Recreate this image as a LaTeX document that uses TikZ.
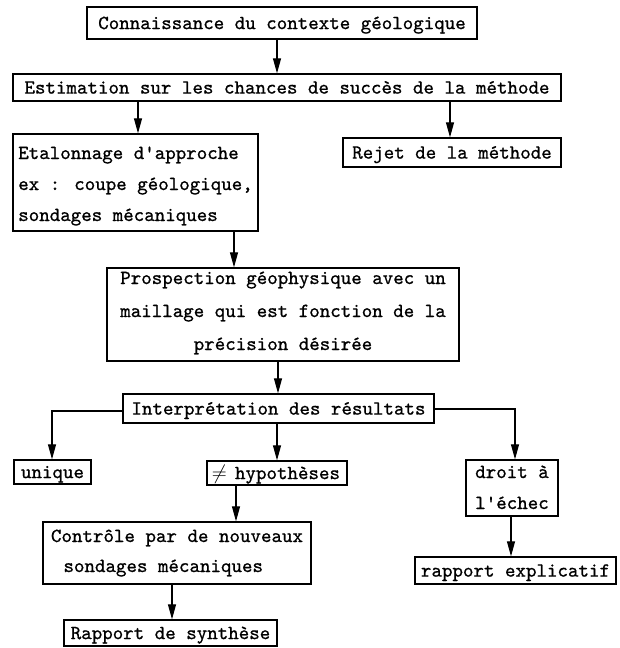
\documentclass[tikz,border=0pt]{standalone}
\usepackage{fontspec}
\usetikzlibrary{arrows.meta}
\newfontfamily\twbase{lmmono10-regular}[Extension=.otf, FakeBold=0.8]
\newcommand\twfont[1]{\twbase\fontsize{20}{#1}\selectfont}
\tikzset{
  box/.style={draw, line width=1.3pt, inner sep=0pt, font={\twfont{24}}, text height=12.2pt, text depth=0pt},
  mbox/.style={draw, line width=1.3pt, inner sep=0pt},
  conn/.style={line width=1.1pt, -{Triangle[length=15pt,width=8pt]}},
}
\begin{document}
\begin{tikzpicture}[x=1pt,y=-1pt]
\fill[white] (0,0) rectangle (619,648);
\useasboundingbox (0,0) rectangle (619,648);

\node[box, minimum width=390pt, minimum height=32pt] (c1) at (282,23) {Connaissance du contexte géologique};
\node[box, minimum width=548pt, minimum height=27pt] (est) at (287,87.5) {Estimation sur les chances de succès de la méthode};
\node[mbox, font={\twfont{31}}, align=left, minimum width=245pt, minimum height=97pt] (eta) at (135.5,182.5)
  {\rule{0pt}{20pt}Etalonnage d\textquotesingle approche\\ex : coupe géologique,\\sondages mécaniques\rule[-5pt]{0pt}{5pt}};
\node[box, minimum width=218pt, minimum height=29pt] (rej) at (452,152.5) {Rejet de la méthode};
\node[mbox, font={\twfont{33}}, align=center, minimum width=352pt, minimum height=93pt] (pro) at (283,314.5)
  {\rule{0pt}{15pt}Prospection géophysique avec un\\maillage qui est fonction de la\\précision désirée\rule[-10pt]{0pt}{10pt}};
\node[box, minimum width=311pt, minimum height=29pt] (int) at (278.5,408.5) {Interprétation des résultats};
\node[box, minimum width=77pt, minimum height=24pt] (uni) at (52.5,472) {unique};
\node[box, minimum width=140pt, minimum height=24pt] (hyp) at (277,473) {\makebox[10.5pt]{$\neq$} hypothèses};
\node[mbox, font={\twfont{31}}, align=left, minimum width=92pt, minimum height=56pt] (dro) at (512,488)
  {\rule{0pt}{16pt}droit à\\l\textquotesingle échec\rule[-5pt]{0pt}{5pt}};
\node[box, minimum width=201pt, minimum height=27pt] (rex) at (515.5,570.5) {rapport explicatif};
\node[mbox, font={\twfont{30}}, align=left, minimum width=268pt, minimum height=62pt] (con) at (177,553)
  {\rule{0pt}{15pt}Contrôle par de nouveaux\\\hspace*{12.5pt}sondages mécaniques\rule[-7pt]{0pt}{7pt}};
\node[box, minimum width=213pt, minimum height=26pt] (syn) at (170.5,633) {Rapport de synthèse};

\draw[conn] ([xshift=-5pt]c1.south) -- ([xshift=-5pt]c1.south |- est.north);
\draw[conn] ([xshift=2.5pt]eta.north |- est.south) -- ([xshift=2.5pt]eta.north);
\draw[conn] ([xshift=-2pt]rej.north |- est.south) -- ([xshift=-2pt]rej.north);
\draw[conn] ([xshift=-49pt]pro.north |- eta.south) -- ([xshift=-49pt]pro.north);
\draw[conn] ([xshift=-0.5pt]int.north |- pro.south) -- ([xshift=-0.5pt]int.north);
\draw[conn] ([yshift=-2.5pt]int.west) -| ([xshift=-0.5pt]uni.north);
\draw[conn] ([yshift=-0.5pt]int.east) -| ([xshift=3pt]dro.north);
\draw[conn] (hyp.north |- int.south) -- (hyp.north);
\draw[conn] ([xshift=59pt]con.north |- hyp.south) -- ([xshift=59pt]con.north);
\draw[conn] ([xshift=-4.5pt]rex.north |- dro.south) -- ([xshift=-4.5pt]rex.north);
\draw[conn] ([xshift=1.5pt]syn.north |- con.south) -- ([xshift=1.5pt]syn.north);
\end{tikzpicture}
\end{document}
